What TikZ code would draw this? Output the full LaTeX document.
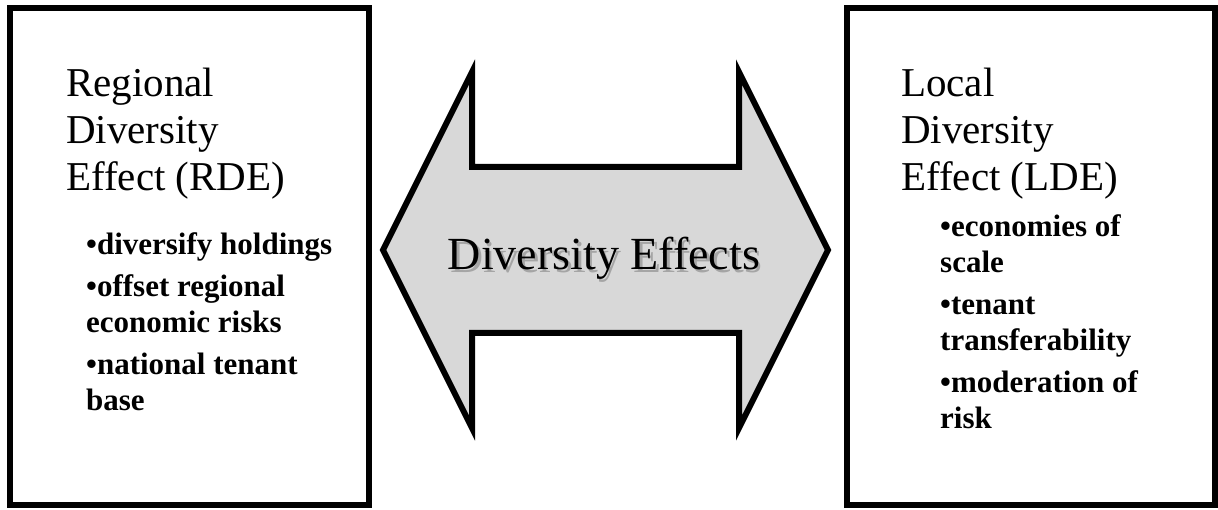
\documentclass[tikz,border=0pt]{standalone}
\usepackage{fontspec}
\setmainfont{Liberation Serif}
\usetikzlibrary{positioning}
\definecolor{DivGray}{RGB}{216,216,216}
\definecolor{DivShadow}{RGB}{165,165,165}
\newcommand{\shadowtext}[1]{\rlap{\hspace{2.5pt}\raisebox{-2.5pt}{\textcolor{DivShadow}{#1}}}#1}
\tikzset{
  div/panel/.style={
    draw=black,
    line width=6pt,
    fill=white,
    inner sep=0pt
  },
  div/heading/.style={
    anchor=north west,
    inner sep=0pt,
    align=left,
    font=\fontsize{41}{47}\selectfont
  },
  div/points/.style={
    anchor=north west,
    inner sep=0pt,
    align=left,
    font=\fontsize{31}{36}\selectfont\bfseries
  },
  div/bigarrow/.style={draw=black, line width=6pt, line join=miter, fill=DivGray},
  div/label/.style={anchor=base, inner sep=0pt, font=\fontsize{46}{50}\selectfont}
}
\begin{document}
\begin{tikzpicture}[x=1pt,y=-1pt]
  \useasboundingbox (0,0) rectangle (1218,510);
  % the two panels
  \node[div/panel,minimum width=359pt,minimum height=496pt] (rde) at (189.5,256.5) {};
  \node[div/panel,minimum width=368pt,minimum height=496pt] (lde) at (1031,256.5) {};
  \node[div/heading] (rdetitle) at (66,68) {Regional\\Diversity\\Effect (RDE)};
  \node[div/points] (rdelist) at (86,232) {\textbullet diversify holdings\\[6pt]
    \textbullet offset regional\\economic risks\\[6pt]
    \textbullet national tenant\\base};
  \node[div/heading] (ldetitle) at (901,68) {Local\\Diversity\\Effect (LDE)};
  \node[div/points] (ldelist) at (940,214) {\textbullet economies of\\scale\\[6pt]
    \textbullet tenant\\transferability\\[6pt]
    \textbullet moderation of\\risk};
  % double headed arrow in the middle
  \draw[div/bigarrow] (383,250) -- (472,72) -- (472,167) -- (739,167) -- (739,72)
    -- (828,250) -- (739,428) -- (739,333) -- (472,333) -- (472,428) -- cycle;
  \node[div/label] (effects) at (604,270) {\shadowtext{Diversity Effects}};
\end{tikzpicture}
\end{document}
